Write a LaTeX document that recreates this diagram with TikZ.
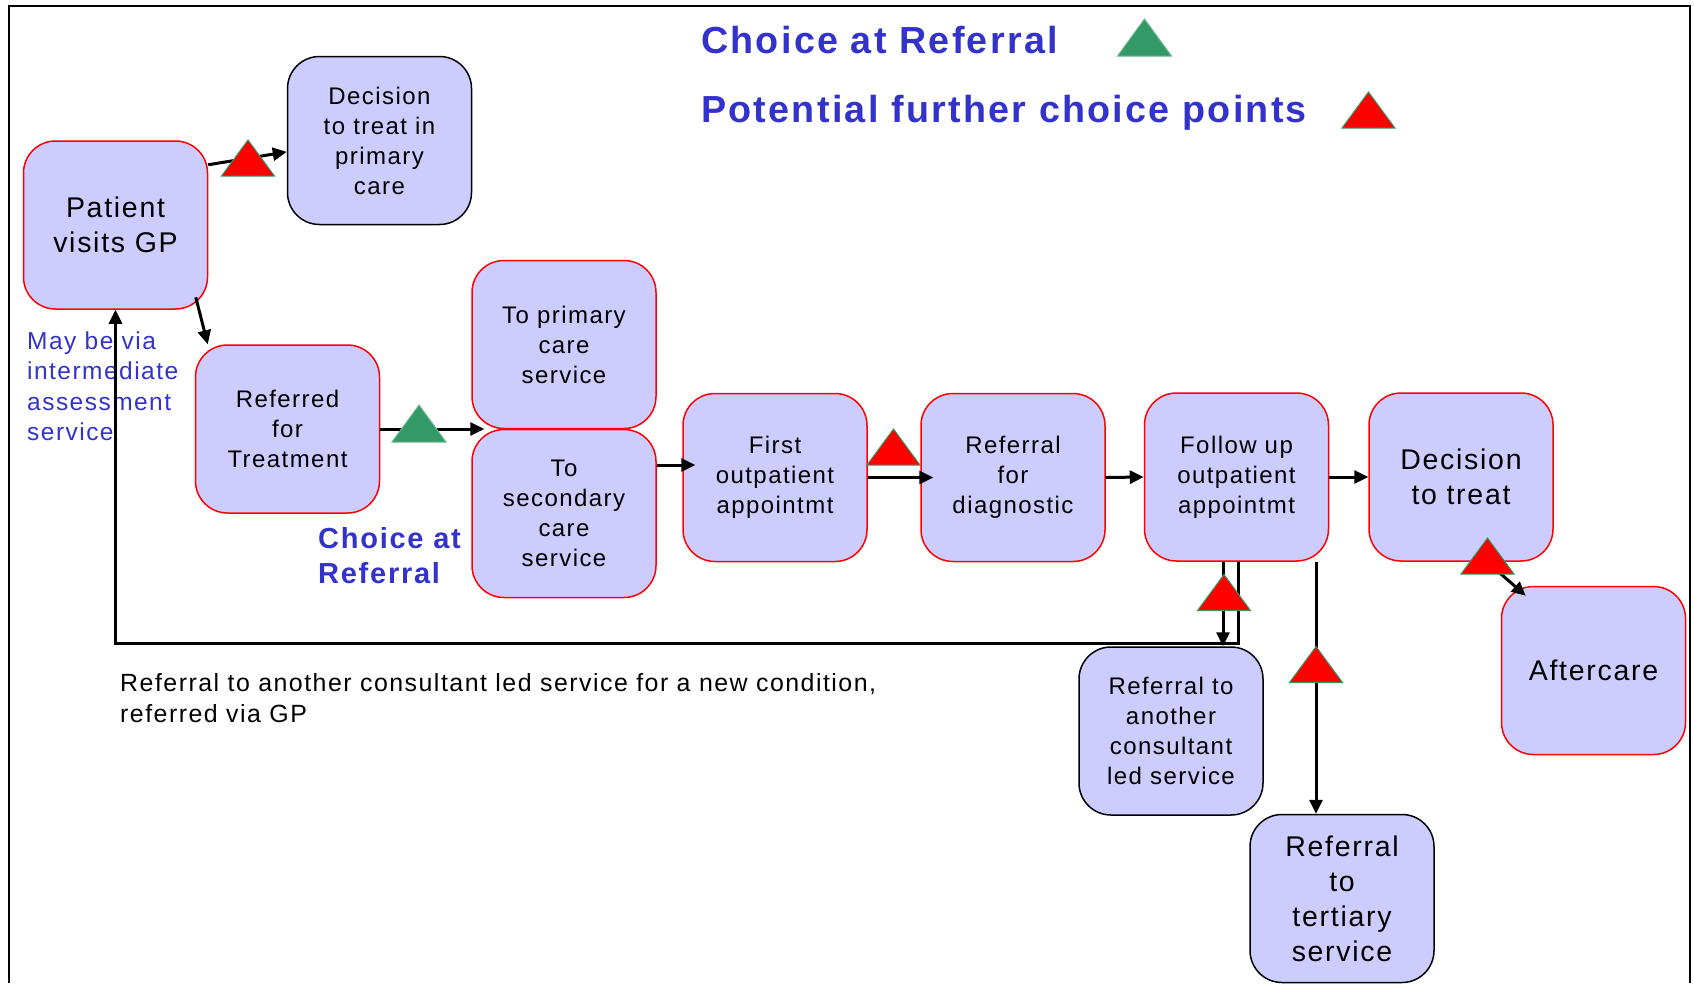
\documentclass[tikz,border=0pt]{standalone}
\usepackage{fontspec}
\setmainfont{Liberation Sans}[LetterSpace=6]
\usetikzlibrary{arrows.meta,calc}
\definecolor{boxfill}{RGB}{204,204,255}
\definecolor{bluetxt}{RGB}{51,51,204}
\definecolor{trigreen}{RGB}{51,153,102}
\definecolor{trired}{RGB}{255,0,0}
\begin{document}
\begin{tikzpicture}[x=1pt,y=-1pt,
  box/.style={draw=red, line width=1.5pt, fill=boxfill, rounded corners=32pt,
    minimum width=184pt, minimum height=168pt, inner sep=0pt, align=center},
  blackbox/.style={box, draw=black},
  small/.style={font=\fontsize{24}{30}\selectfont},
  big/.style={font=\fontsize{28.5}{35}\selectfont},
  arr/.style={line width=3pt, -{Triangle[length=14pt,width=13pt]}},
  ln/.style={line width=3pt},
  frame/.style={line width=2pt},
  legend/.style={font=\fontsize{37.7}{44}\bfseries\selectfont, text=bluetxt, inner sep=0pt, anchor=base west},
  note/.style={inner sep=0pt, anchor=base west},
  redtri/.pic={\filldraw[fill=trired, draw=trigreen, line width=1pt] (-26.5,18) -- (26.5,18) -- (0,-18) -- cycle;},
  greentri/.pic={\filldraw[fill=trigreen, draw=trigreen!70!white, line width=1pt] (-27,18.5) -- (27,18.5) -- (0,-18.5) -- cycle;}
]
\useasboundingbox (0,0) rectangle (1694,983);
% frame
\draw[frame] (9,983) -- (9,6) -- (1690,6) -- (1690,983);

% legend
\node[legend] (lg1) at (701,53) {Choice at Referral};
\node[legend] (lg2) at (701,122) {Potential further choice points};
\pic at (1144.5,37.5) {greentri};
\pic at (1368.5,110) {redtri};

% boxes
\node[box, big] (Patient) at (115.5,225) {Patient\\visits GP};
\node[blackbox, small] (DecP) at (379.5,140.5) {Decision\\to treat in\\primary\\care};
\node[box, small] (Referred) at (287.5,429) {Referred\\for\\Treatment};
\node[box, small] (ToPrim) at (564,344.5) {To primary\\care\\service};
\node[box, small] (ToSec) at (564,513.5) {To\\secondary\\care\\service};
\node[box, small] (First) at (775,477.5) {First\\outpatient\\appointmt};
\node[box, small] (Diag) at (1013,477.5) {Referral\\for\\diagnostic};
\node[box, small] (Follow) at (1236.5,477) {Follow up\\outpatient\\appointmt};
\node[box, big] (DecT) at (1461,477) {Decision\\to treat};
\node[box, big] (After) at (1593.5,670.5) {Aftercare};
\node[blackbox, small] (RefAnother) at (1171,731) {Referral to\\another\\consultant\\led service};
\node[blackbox, big] (Tert) at (1342,898.5) {Referral\\to\\tertiary\\service};

% free texts
\node[note, font=\fontsize{24.5}{30.5}\selectfont, text=bluetxt] (maybe) at (27,349)
  {\begin{tabular}[t]{@{}l@{}}May be via\\intermediate\\assessment\\service\end{tabular}};
\node[note, font=\fontsize{29}{35}\bfseries\selectfont, text=bluetxt] (choicemid) at (318,548)
  {\begin{tabular}[t]{@{}l@{}}Choice at\\Referral\end{tabular}};
\node[note, font=\fontsize{24.9}{31}\selectfont] (footer) at (120,691)
  {\begin{tabular}[t]{@{}l@{}}Referral to another consultant led service for a new condition,\\referred via GP\end{tabular}};

% connectors
\coordinate (ly) at (0,643);
\coordinate (jn) at ($(ToPrim.south west)!0.5!(ToSec.north west)+(13,0)$);
\coordinate (f1) at ($(First.west)+(13,-12.5)$);
\coordinate (fa) at ($(Follow.south)+(-13.5,0)$);
\coordinate (fb) at ($(Follow.south)+(1.5,0)$);
\coordinate (ft) at ($(Follow.south)+(79.5,0)$);

\draw[arr] (Patient.33.5) -- (DecP.187);
\draw[arr] ($(Patient.south east)+(-12.5,-12.5)$) -- ($(Referred.north west)+(13,0)$);
\draw[arr] (Referred.east) -- (jn);
\draw[arr] (ToSec.east |- f1) -- (f1);
\draw[arr] (First.east) -- ($(Diag.west)+(13,0)$);
\draw[arr] (Diag.east) -- (Follow.west);
\draw[arr] (Follow.east) -- (DecT.west);
\draw[arr] ($(DecT.south)+(26,0)$) -- ($(After.north west)+(25,10)$);
\draw[arr] (fa) -- (fa |- RefAnother.north);
\draw[arr] (fb) -- (fb |- ly) -| (Patient.south);
\draw[arr] (ft) -- (ft |- Tert.north);

% choice triangles
\pic at (248,158) {redtri};
\pic at (419,423.5) {greentri};
\pic at (893.5,447) {redtri};
\pic at (1487.5,556) {redtri};
\pic at (1224,592.5) {redtri};
\pic at (1316,664.5) {redtri};
\end{tikzpicture}
\end{document}
